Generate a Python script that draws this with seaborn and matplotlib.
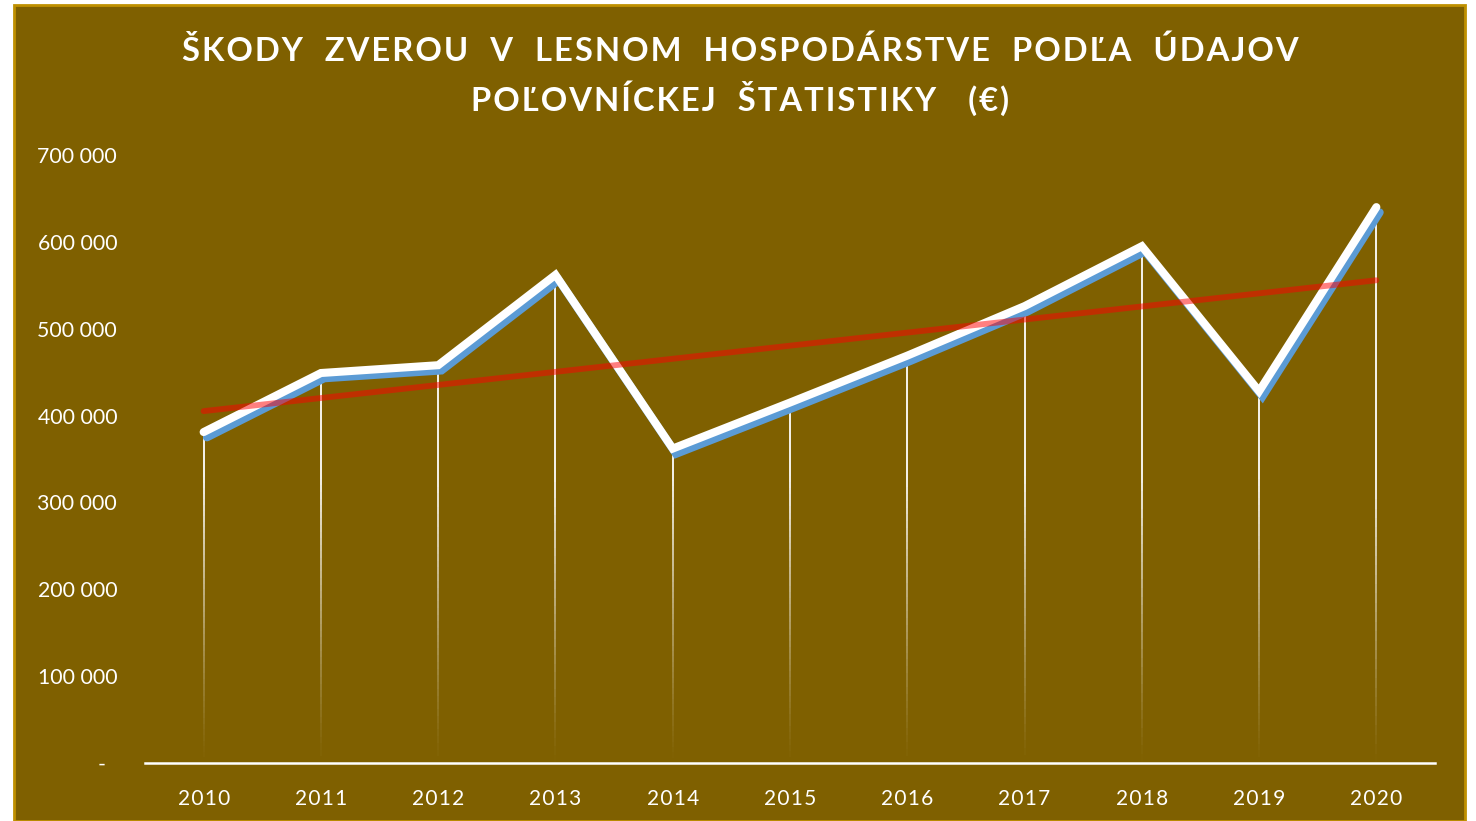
import numpy as np
import pandas as pd
import seaborn as sns
import matplotlib.pyplot as plt
import matplotlib.patheffects as pe
from matplotlib.collections import LineCollection
from matplotlib.patches import Rectangle

# data
years = ['2010', '2011', '2012', '2013', '2014', '2015', '2016', '2017', '2018', '2019', '2020']
damages = [381000, 449000, 458000, 562000, 362000, 415000, 469000, 526000, 595000, 428000, 640000]
yticks = [0, 100000, 200000, 300000, 400000, 500000, 600000, 700000]
ytick_labels = ['-  ', '100 000', '200 000', '300 000', '400 000', '500 000', '600 000', '700 000']
title = 'ŠKODY  ZVEROU  V  LESNOM  HOSPODÁRSTVE  PODĽA  ÚDAJOV\nPOĽOVNÍCKEJ  ŠTATISTIKY   (€)'

BG = '#7F6000'
BORDER = '#BF9000'

sns.set_style('white')
plt.rcParams['font.family'] = ['Lato', 'DejaVu Sans']


def spaced(s):
    # fake letter spacing with hair spaces
    return '\n'.join('\u200a'.join(line) for line in s.split('\n'))


df = pd.DataFrame({'x': np.arange(len(years)), 'y': damages})

fig = plt.figure(figsize=(14.76, 8.21), dpi=100, facecolor='white')
# chart box
fig.patches.append(Rectangle((14 / 1476, 0), 1451 / 1476, 1 - 5 / 821,
                             transform=fig.transFigure, facecolor=BG,
                             edgecolor=BORDER, lw=2, zorder=-5))

ax = fig.add_axes([145 / 1476, 1 - 763 / 821, 1290 / 1476, (763 - 155) / 821])
ax.set_facecolor('none')
ax.set_zorder(2)

# drop lines fading toward the axis
segs, cols = [], []
for xi, yi in zip(df['x'], df['y']):
    edges = np.linspace(0, yi, 60)
    for a, b in zip(edges[:-1], edges[1:]):
        segs.append([(xi, a), (xi, b)])
        alpha = float(np.clip((a + b) / 2 / 330000, 0, 1)) ** 1.2
        cols.append((1, 1, 1, alpha))
ax.add_collection(LineCollection(segs, colors=cols, linewidths=1.3, zorder=2))

sns.lineplot(data=df, x='x', y='y', ax=ax, color='white', lw=5.8, zorder=3,
             solid_capstyle='round', solid_joinstyle='miter',
             path_effects=[pe.SimpleLineShadow(offset=(2.4, -3.8), shadow_color='#5B9BD5', alpha=1),
                           pe.Normal()])

sns.regplot(data=df, x='x', y='y', ax=ax, scatter=False, ci=None, truncate=True,
            line_kws={'color': 'red', 'alpha': 0.5, 'lw': 4.2, 'zorder': 4,
                      'solid_capstyle': 'round'})

ax.set_xlim(-0.5, len(years) - 0.5)
ax.set_ylim(0, 700000)
ax.set_xticks(df['x'])
ax.set_xticklabels([spaced(y) for y in years])
ax.set_yticks(yticks)
ax.set_yticklabels(ytick_labels)
ax.tick_params(axis='y', colors='white', labelsize=15.3, length=0, pad=20)
ax.tick_params(axis='x', colors='white', labelsize=15, length=0, pad=19)
ax.set_xlabel('')
ax.set_ylabel('')
for s in ['top', 'right', 'left']:
    ax.spines[s].set_visible(False)
ax.spines['bottom'].set_color('white')
ax.spines['bottom'].set_linewidth(1.8)

fig.text(740 / 1476, 1 - 76 / 821, spaced(title), ha='center', va='center',
         color='white', fontsize=23.6, fontweight='bold', linespacing=1.47)

fig.savefig('out.png', dpi=100, facecolor=fig.get_facecolor())
